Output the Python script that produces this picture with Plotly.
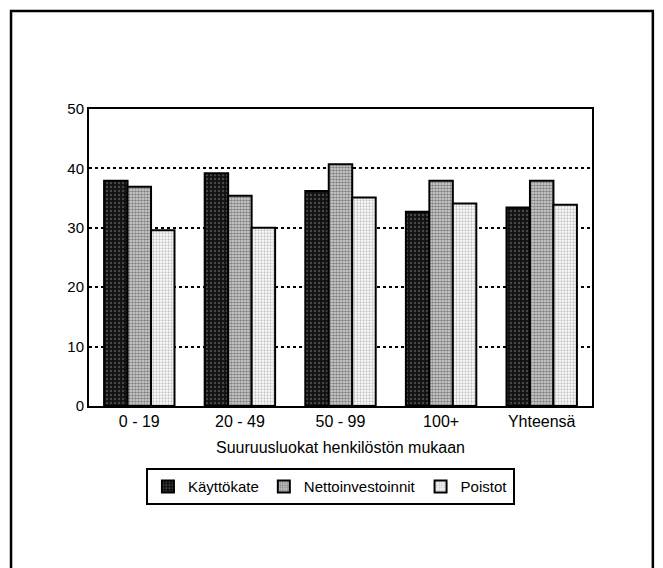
import plotly.graph_objects as go

categories = ["0 - 19", "20 - 49", "50 - 99", "100+", "Yhteensä"]
kayttokate = [37.9, 39.2, 36.2, 32.7, 33.4]
nettoinvestoinnit = [36.9, 35.4, 40.7, 37.9, 37.9]
poistot = [29.6, 30.0, 35.1, 34.1, 33.9]
y_ticks = [0, 10, 20, 30, 40, 50]

FONT = "Arial, Liberation Sans, Helvetica, sans-serif"

fig = go.Figure()
fig.add_bar(x=categories, y=kayttokate, name="Käyttökate",
            marker=dict(color="#1a1a1a", line=dict(color="black", width=2),
                        pattern=dict(shape=".", fgcolor="#7a7a7a", bgcolor="#111111", size=4, solidity=0.3)))
fig.add_bar(x=categories, y=nettoinvestoinnit, name="Nettoinvestoinnit",
            marker=dict(color="#777777", line=dict(color="black", width=2),
                        pattern=dict(shape=".", fgcolor="#2a2a2a", bgcolor="#dcdcdc", size=3, solidity=0.6)))
fig.add_bar(x=categories, y=poistot, name="Poistot",
            marker=dict(color="#dddddd", line=dict(color="black", width=2),
                        pattern=dict(shape=".", fgcolor="#8a8a8a", bgcolor="#ffffff", size=3, solidity=0.45)))

fig.update_layout(
    width=655, height=560,
    margin=dict(l=81, r=71, t=101, b=162),
    paper_bgcolor="white", plot_bgcolor="white",
    barmode="group", bargap=0.3, bargroupgap=0,
    font=dict(family=FONT, size=15, color="black"),
    showlegend=True,
    legend=dict(orientation="h", x=0.48, xanchor="center", y=-0.21, yanchor="top",
                bordercolor="black", borderwidth=2, font=dict(size=15),
                itemwidth=30, tracegroupgap=0),
    xaxis=dict(showline=True, linecolor="black", linewidth=2, mirror=True,
               ticks="", tickfont=dict(size=16),
               title=dict(text="Suuruusluokat henkilöstön mukaan", font=dict(size=16), standoff=13)),
    yaxis=dict(range=[0, 50], tickvals=y_ticks, showline=True, linecolor="black", linewidth=2,
               mirror=True, ticks="", tickfont=dict(size=15),
               showgrid=True, gridcolor="black", gridwidth=1.5, griddash="dot",
               zeroline=False),
)

fig.add_shape(type="rect", xref="paper", yref="paper",
              x0=-0.155, x1=1.121, y0=-0.62, y1=1.33,
              line=dict(color="black", width=2.5), layer="below")

fig.write_html("out.html")
